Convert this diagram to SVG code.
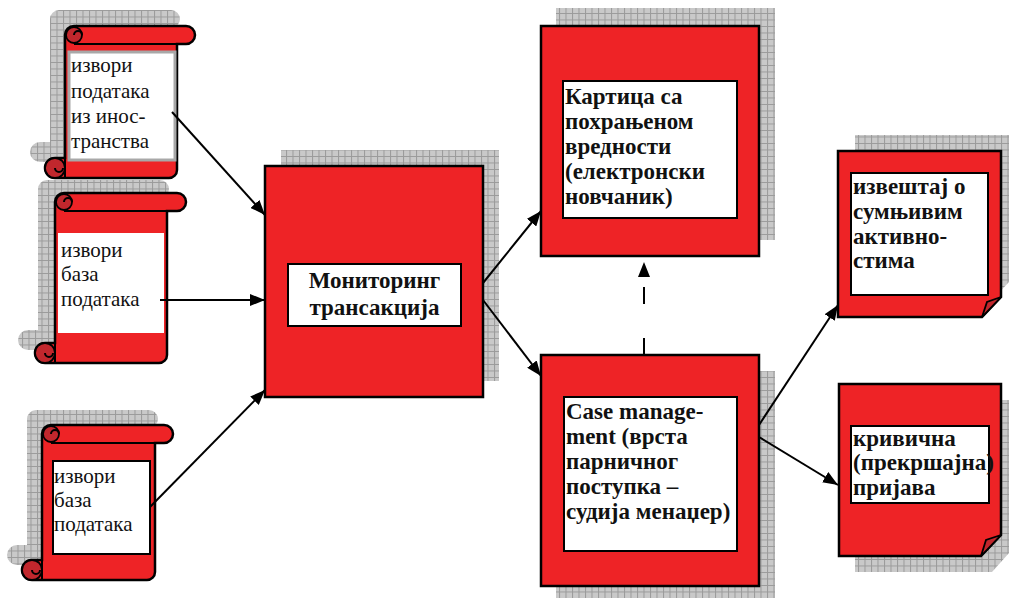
<svg xmlns="http://www.w3.org/2000/svg" width="1009" height="601" viewBox="0 0 1009 601">
<defs>
<pattern id="grid" width="6.5" height="6.5" patternUnits="userSpaceOnUse">
<rect width="6.5" height="6.5" fill="#c9c9c9"/>
<path d="M0,0.5H6.5M0.5,0V6.5" stroke="#9a9a9a" stroke-width="1"/>
</pattern>
<marker id="arr" viewBox="0 0 15 12" refX="15" refY="6" markerWidth="15" markerHeight="12" markerUnits="userSpaceOnUse" orient="auto">
<path d="M0,0L15,6L0,12z" fill="#000"/>
</marker>
</defs>
<style>
.sh{fill:url(#grid);stroke:none}
.red{fill:#ee2326;stroke:#000;stroke-width:2.5}
.dk{fill:#c1272d;stroke:#000;stroke-width:1.8}
.ln{fill:none;stroke:#000;stroke-width:2}
.wb{fill:#fff;stroke:#000;stroke-width:2}
text{font-family:'Liberation Serif','DejaVu Serif',serif;fill:#111}
.t{font-size:21px}
.b{font-size:23px;font-weight:bold}
.c{stroke:#000;stroke-width:2;fill:none}
</style>
<rect width="1009" height="601" fill="#fff"/>

<g id="scroll1">
<path class="sh" transform="translate(-15,-16)" d="M74,26H186A9,9 0 0 1 186,44H177V170A8,8 0 0 1 169,178H55A10,10 0 0 1 55,158H65V35A9,9 0 0 1 74,26Z"/>
</g>
<g id="scroll2-shadow">
<path class="sh" transform="translate(-17,-13)" d="M64,193H177A9,9 0 0 1 177,211H167V355A8,8 0 0 1 159,363H45A10,10 0 0 1 45,343H55V202A9,9 0 0 1 64,193Z"/>
</g>
<g id="scroll3-shadow">
<path class="sh" transform="translate(-15,-15)" d="M51,425H164A9,9 0 0 1 164,443H155V572A8,8 0 0 1 147,580H32A10,10 0 0 1 32,560H42V434A9,9 0 0 1 51,425Z"/>
</g>

<g id="node-scroll1">
<path class="red" d="M74,26H186A9,9 0 0 1 186,44H177V170A8,8 0 0 1 169,178H55A10,10 0 0 1 55,158H65V35A9,9 0 0 1 74,26Z"/>
<path class="ln" d="M74,44H186"/>
<circle class="dk" cx="74" cy="35" r="8"/>
<path class="ln" stroke-width="1.5" d="M74,35a4,4 0 0 1 8,0"/>
<circle class="dk" cx="55" cy="168" r="10"/>
<path class="ln" stroke-width="1.5" d="M55,168a4,4 0 0 0 8,0M65,158V178"/>
<rect x="69" y="52" width="106" height="108" fill="#fff" stroke="#a8a8a8" stroke-width="3"/>
<text class="t" font-family="Liberation Serif, DejaVu Serif, serif" x="71" y="72">извори</text>
<text class="t" font-family="Liberation Serif, DejaVu Serif, serif" x="71" y="98">података</text>
<text class="t" font-family="Liberation Serif, DejaVu Serif, serif" x="71" y="123">из инос-</text>
<text class="t" font-family="Liberation Serif, DejaVu Serif, serif" x="71" y="148">транства</text>
</g>

<g id="node-scroll2">
<path class="red" d="M64,193H177A9,9 0 0 1 177,211H167V355A8,8 0 0 1 159,363H45A10,10 0 0 1 45,343H55V202A9,9 0 0 1 64,193Z"/>
<path class="ln" d="M64,211H177"/>
<circle class="dk" cx="64" cy="202" r="8"/>
<path class="ln" stroke-width="1.5" d="M64,202a4,4 0 0 1 8,0"/>
<circle class="dk" cx="45" cy="353" r="10"/>
<path class="ln" stroke-width="1.5" d="M45,353a4,4 0 0 0 8,0M55,343V363"/>
<rect x="58" y="233" width="106" height="100" fill="#fff"/>
<text class="t" x="61" y="257">извори</text>
<text class="t" x="61" y="281">база</text>
<text class="t" x="61" y="306">података</text>
</g>

<g id="node-scroll3">
<path class="red" d="M51,425H164A9,9 0 0 1 164,443H155V572A8,8 0 0 1 147,580H32A10,10 0 0 1 32,560H42V434A9,9 0 0 1 51,425Z"/>
<path class="ln" d="M51,443H164"/>
<circle class="dk" cx="51" cy="434" r="8"/>
<path class="ln" stroke-width="1.5" d="M51,434a4,4 0 0 1 8,0"/>
<circle class="dk" cx="32" cy="570" r="10"/>
<path class="ln" stroke-width="1.5" d="M32,570a4,4 0 0 0 8,0M42,560V580"/>
<rect class="wb" x="53" y="461" width="97" height="93"/>
<text class="t" x="54" y="483">извори</text>
<text class="t" x="54" y="507">база</text>
<text class="t" x="54" y="531">података</text>
</g>

<g id="node-monitoring">
<rect class="sh" x="281" y="150" width="218" height="231"/>
<rect class="red" x="265" y="166" width="218" height="231"/>
<rect class="wb" x="288" y="264" width="173" height="62"/>
<text class="b" x="374.5" y="288" text-anchor="middle">Мониторинг</text>
<text class="b" x="374.5" y="315" text-anchor="middle">трансакција</text>
</g>

<g id="node-card">
<rect class="sh" x="556" y="8" width="219" height="232"/>
<rect class="red" x="541" y="26" width="218" height="230"/>
<rect class="wb" x="563" y="81" width="174" height="137"/>
<text class="b" x="565" y="104">Картица са</text>
<text class="b" x="565" y="129">похрањеном</text>
<text class="b" x="565" y="154">вредности</text>
<text class="b" x="565" y="179">(електронски</text>
<text class="b" x="565" y="204">новчаник)</text>
</g>

<g id="node-case">
<rect class="sh" x="556" y="371" width="219" height="227"/>
<rect class="red" x="541" y="355" width="218" height="231"/>
<rect class="wb" x="564" y="397" width="173" height="154"/>
<text class="b" x="566" y="419">Case manage-</text>
<text class="b" x="566" y="444">ment (врста</text>
<text class="b" x="566" y="469">парничног</text>
<text class="b" x="566" y="494">поступка –</text>
<text class="b" x="566" y="519">судија менаџер)</text>
</g>

<g id="node-report">
<path class="sh" d="M855,135H1009V282L992,300H855Z"/>
<path class="red" d="M838,151H1001V297L982,317H838Z"/>
<path class="dk" d="M982,317L987,302L1001,297Z"/>
<rect class="wb" x="851" y="173" width="137" height="122"/>
<text class="b" x="853" y="194">извештај о</text>
<text class="b" x="853" y="219">сумњивим</text>
<text class="b" x="853" y="244">активно-</text>
<text class="b" x="853" y="268">стима</text>
</g>

<g id="node-criminal">
<path class="sh" d="M855,400H1009V553L992,572H855Z"/>
<path class="red" d="M839,384H1001V535L981,556H839Z"/>
<path class="dk" d="M981,556L986,540L1001,535Z"/>
<rect class="wb" x="851" y="426" width="138" height="77"/>
<text class="b" x="853" y="446">кривична</text>
<text class="b" x="853" y="470">(прекршајна)</text>
<text class="b" x="853" y="495">пријава</text>
</g>

<g id="connectors">
<path class="c" d="M172,112L265,215" marker-end="url(#arr)"/>
<path class="c" d="M160,300L265,300" marker-end="url(#arr)"/>
<path class="c" d="M150,507L265,390" marker-end="url(#arr)"/>
<path class="c" d="M483,283L541,211" marker-end="url(#arr)"/>
<path class="c" d="M483,300L541,376" marker-end="url(#arr)"/>
<path class="c" d="M644,355L644,262" stroke-dasharray="17 34" marker-end="url(#arr)"/>
<path class="c" d="M759,425L838,305" marker-end="url(#arr)"/>
<path class="c" d="M759,437L838,485" marker-end="url(#arr)"/>
</g>
</svg>
